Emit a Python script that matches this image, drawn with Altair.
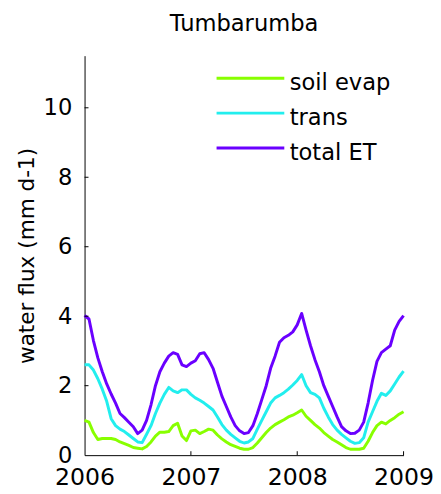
import altair as alt
import pandas as pd

# time grid: half-month steps from 2006 to 2009
years = [2006 + k / 24 for k in range(73)]

soil_evap = [1.0, 0.95, 0.65, 0.45, 0.48, 0.48, 0.48, 0.45, 0.38, 0.33,
             0.28, 0.22, 0.2, 0.18, 0.25, 0.38, 0.55, 0.66, 0.66, 0.68,
             0.85, 0.92, 0.55, 0.42, 0.7, 0.72, 0.62, 0.68, 0.75, 0.72,
             0.58, 0.47, 0.38, 0.3, 0.25, 0.2, 0.17, 0.17, 0.22, 0.35,
             0.5, 0.65, 0.78, 0.88, 0.95, 1.02, 1.1, 1.15, 1.22, 1.3,
             1.12, 1.0, 0.88, 0.78, 0.65, 0.55, 0.45, 0.38, 0.3, 0.22,
             0.17, 0.17, 0.17, 0.2, 0.4, 0.65, 0.85, 0.95, 0.9, 1.0,
             1.08, 1.18, 1.25]

trans = [2.6, 2.6, 2.45, 2.2, 1.9, 1.55, 1.05, 0.85, 0.75, 0.68,
         0.58, 0.48, 0.38, 0.36, 0.6, 0.85, 1.2, 1.5, 1.75, 1.95,
         1.85, 1.8, 1.88, 1.88, 1.75, 1.65, 1.58, 1.5, 1.4, 1.3,
         1.1, 0.88, 0.72, 0.6, 0.5, 0.4, 0.35, 0.38, 0.48, 0.75,
         1.0, 1.25, 1.5, 1.65, 1.72, 1.8, 1.9, 2.02, 2.15, 2.32,
         2.0, 1.8, 1.75, 1.65, 1.35, 1.1, 0.88, 0.72, 0.6, 0.5,
         0.4, 0.34, 0.36, 0.5, 0.95, 1.25, 1.55, 1.78, 1.72, 1.85,
         2.05, 2.25, 2.42]

total_et = [4.02, 3.92, 3.3, 2.8, 2.4, 2.05, 1.76, 1.5, 1.2, 1.08,
            0.95, 0.82, 0.62, 0.72, 1.0, 1.45, 2.0, 2.4, 2.65, 2.85,
            2.95, 2.9, 2.6, 2.55, 2.65, 2.72, 2.92, 2.95, 2.75, 2.5,
            2.1, 1.7, 1.4, 1.1, 0.85, 0.7, 0.62, 0.65, 0.85, 1.2,
            1.6, 2.0, 2.5, 2.85, 3.25, 3.38, 3.45, 3.55, 3.75, 4.08,
            3.6, 3.15, 2.75, 2.4, 2.0, 1.7, 1.4, 1.1, 0.82, 0.7,
            0.62, 0.63, 0.72, 0.95, 1.5, 2.15, 2.7, 2.95, 3.05, 3.15,
            3.6, 3.85, 4.02]

series_names = ["soil evap", "trans", "total ET"]
colors = ["#88ff00", "#22eeee", "#6a00ff"]
widths = [3, 3, 4]
y_ticks = [0, 2, 4, 6, 8, 10]
x_ticks = [2006, 2007, 2008, 2009]

rows = []
for name, vals in zip(series_names, [soil_evap, trans, total_et]):
    for t, v in zip(years, vals):
        rows.append({"t": t, "v": v, "series": name})
df = pd.DataFrame(rows)

FONT = "DejaVu Sans"
W, H = 325, 407

x_scale = alt.Scale(domain=[2006, 2009], nice=False, zero=False)
y_scale = alt.Scale(domain=[0, 11.5], nice=False)
x_axis = alt.Axis(values=x_ticks, format="d", title=None, ticks=False,
                  tickSize=0, labelPadding=11, labelFontSize=24,
                  labelFont=FONT, labelColor="black", domainColor="black",
                  grid=False, labelFlush=False, labelOverlap=False)
y_axis = alt.Axis(values=y_ticks, title="water flux (mm d-1)", ticks=False,
                  tickSize=0, labelPadding=13, labelFontSize=23,
                  labelFont=FONT, labelColor="black", domainColor="black",
                  grid=False, labelFlush=False, labelOverlap=False,
                  titleFont=FONT, titleFontSize=22, titleFontWeight="normal",
                  titleColor="black", titleAngle=270, titleAlign="center",
                  titleBaseline="alphabetic", titleX=-52, titleY=H / 2)

lines = alt.Chart(df).mark_line(strokeJoin="round").encode(
    x=alt.X("t:Q", scale=x_scale, axis=x_axis),
    y=alt.Y("v:Q", scale=y_scale, axis=y_axis),
    color=alt.Color("series:N",
                    scale=alt.Scale(domain=series_names, range=colors),
                    legend=alt.Legend(title=None, orient="none", legendX=179, legendY=15,
                                      symbolType="M-5,-0.43H1", symbolSize=529,
                                      symbolStrokeWidth=3, labelFontSize=23,
                                      labelFont=FONT, labelColor="black",
                                      labelOffset=4, rowPadding=10.5, padding=0)),
    strokeWidth=alt.StrokeWidth("series:N",
                                scale=alt.Scale(domain=series_names, range=widths),
                                legend=None),
)

ytick = alt.Chart(pd.DataFrame({"v": y_ticks[1:]})).mark_rule(
    color="black", strokeWidth=1).encode(
    y=alt.Y("v:Q", scale=y_scale, axis=y_axis), x=alt.value(0), x2=alt.value(4))

xtick = alt.Chart(pd.DataFrame({"t": x_ticks[1:]})).mark_rule(
    color="black", strokeWidth=1).encode(
    x=alt.X("t:Q", scale=x_scale, axis=x_axis), y=alt.value(H), y2=alt.value(H - 4))

chart = alt.layer(lines, ytick, xtick).properties(
    width=W, height=H,
    title=alt.Title("Tumbarumba", fontSize=23, font=FONT, fontWeight="normal",
                    color="black", offset=20),
    autosize=alt.AutoSizeParams(type="none"),
    padding={"left": 78, "top": 44, "right": 30, "bottom": 35},
).configure_view(stroke=None).configure_axis(domainWidth=1)

chart.save("out.html", embed_options={"renderer": "svg", "actions": False})
